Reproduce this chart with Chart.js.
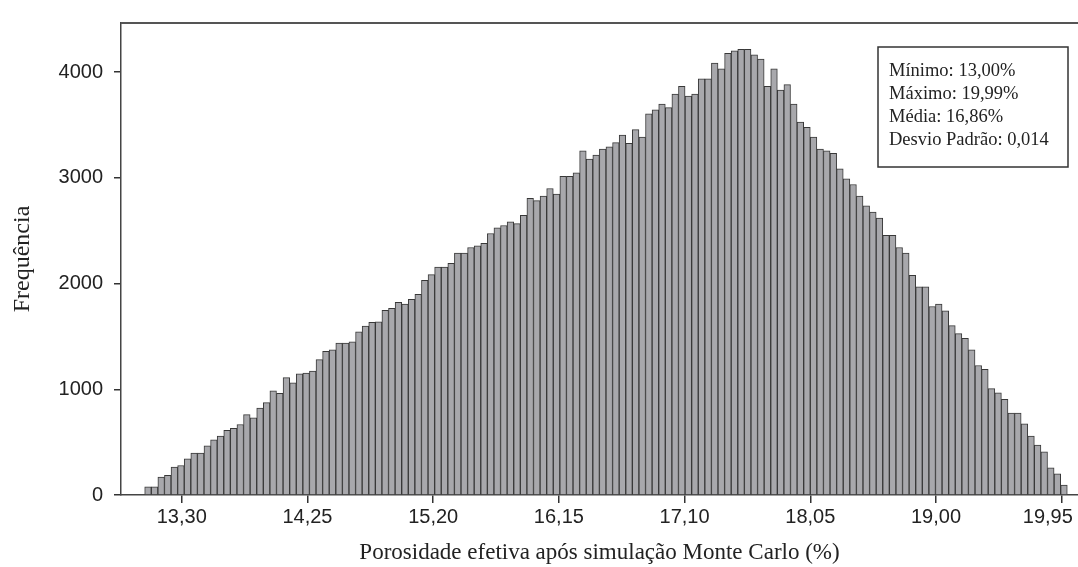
<!DOCTYPE html>
<html>
<head>
<meta charset="utf-8">
<title>Porosidade efetiva - simulação Monte Carlo</title>
<script src="https://cdn.jsdelivr.net/npm/chart.js@4.4.1/dist/chart.umd.min.js"></script>
<style>
  html, body { margin: 0; padding: 0; background: #fff; }
  #wrap { width: 1078px; height: 567px; position: relative; }
</style>
</head>
<body>
<div id="wrap"><canvas id="histChart"></canvas></div>
<script>
// Histogram classes: 140 bins from 13,02% up to 19,99%
const binStart = 13.02;
const binWidth = 0.0498;

// Frequency of each class
const frequencies = [
    77,   77,  170,  186,  264,  279,  341,  397,  397,  465,
   521,  558,  611,  630,  667,  760,  729,  822,  874,  986,
   961, 1110, 1060, 1147, 1153, 1172, 1281, 1358, 1374, 1436,
  1436, 1448, 1544, 1597, 1634, 1637, 1746, 1767, 1823, 1805,
  1850, 1898, 2031, 2084, 2155, 2155, 2192, 2288, 2288, 2341,
  2357, 2381, 2474, 2527, 2549, 2583, 2567, 2645, 2806, 2785,
  2828, 2899, 2847, 3014, 3014, 3047, 3256, 3178, 3215, 3272,
  3293, 3333, 3405, 3327, 3457, 3386, 3606, 3643, 3699, 3665,
  3792, 3867, 3774, 3792, 3938, 3938, 4087, 4031, 4177, 4202,
  4217, 4217, 4165, 4124, 3867, 4031, 3830, 3882, 3699, 3528,
  3479, 3386, 3272, 3256, 3231, 3085, 2992, 2937, 2828, 2735,
  2676, 2620, 2456, 2456, 2341, 2288, 2077, 1969, 1969, 1783,
  1805, 1742, 1603, 1526, 1482, 1374, 1225, 1188, 1007,  967,
   905,  775,  775,  673,  558,  472,  409,  257,  200,   93
];

const xTicks = [13.30, 14.25, 15.20, 16.15, 17.10, 18.05, 19.00, 19.95];
const yTicks = [0, 1000, 2000, 3000, 4000];

const statLines = [
  "Mínimo: 13,00%",
  "Máximo: 19,99%",
  "Média: 16,86%",
  "Desvio Padrão: 0,014"
];

const sansFont = "'Liberation Sans', Arial, sans-serif";
const serifFont = "'Liberation Serif', 'Times New Roman', serif";

// bar centres on the linear x axis
const points = frequencies.map((f, i) => ({ x: binStart + binWidth * (i + 0.5), y: f }));

// top edge of the frame
const frameTop = {
  id: "frameTop",
  beforeDatasetsDraw(chart) {
    const { ctx, chartArea } = chart;
    ctx.save();
    ctx.strokeStyle = "#555";
    ctx.lineWidth = 2;
    ctx.beginPath();
    ctx.moveTo(chartArea.left, chartArea.top);
    ctx.lineTo(chartArea.right, chartArea.top);
    ctx.stroke();
    ctx.restore();
  }
};

// summary statistics box, upper right
const statsBox = {
  id: "statsBox",
  afterDraw(chart) {
    const { ctx, chartArea } = chart;
    const w = 190, h = 120;
    const x = chartArea.right - 10 - w;
    const y = chartArea.top + 24;
    ctx.save();
    ctx.fillStyle = "#fff";
    ctx.fillRect(x, y, w, h);
    ctx.strokeStyle = "#333";
    ctx.lineWidth = 1.5;
    ctx.strokeRect(x, y, w, h);
    ctx.fillStyle = "#222";
    ctx.font = "18.5px " + serifFont;
    ctx.textBaseline = "alphabetic";
    statLines.forEach((line, i) => {
      ctx.fillText(line, x + 11, y + 29 + i * 23);
    });
    ctx.restore();
  }
};

// the last x label is nudged left so it stays inside the canvas
const xLabel = (v, i) => {
  const txt = v.toFixed(2).replace(".", ",");
  return i === xTicks.length - 1 ? txt + "\u00a0\u00a0\u00a0\u00a0\u00a0" : txt;
};

const ctx = document.getElementById("histChart").getContext("2d");
const histChart = new Chart(ctx, {
  type: "bar",
  data: {
    datasets: [{
      label: "Frequência",
      data: points,
      backgroundColor: "#a8a8ac",
      borderColor: "#383838",
      borderWidth: 1,
      barPercentage: 1,
      categoryPercentage: 1
    }]
  },
  options: {
    responsive: true,
    maintainAspectRatio: false,
    animation: false,
    events: [],
    layout: { padding: { top: 15, left: 0, right: 0, bottom: 0 } },
    plugins: {
      legend: { display: false },
      tooltip: { enabled: false }
    },
    scales: {
      x: {
        type: "linear",
        offset: false,
        min: 12.841,
        max: 20.073,
        afterBuildTicks: s => { s.ticks = xTicks.map(v => ({ value: v })); },
        afterFit: s => { s.height = 72; s.paddingLeft = 0; s.paddingRight = 0; },
        grid: { offset: false, drawOnChartArea: false, tickLength: 8, color: "#333", lineWidth: 1.5 },
        border: { display: true, color: "#444", width: 1.5 },
        ticks: {
          padding: 2,
          maxRotation: 0,
          autoSkip: false,
          color: "#222",
          font: { family: sansFont, size: 20 },
          callback: xLabel
        },
        title: {
          display: true,
          text: "Porosidade efetiva após simulação Monte Carlo (%)",
          color: "#222",
          font: { family: serifFont, size: 23 },
          padding: { top: 0, bottom: 0 }
        }
      },
      y: {
        min: 0,
        max: 4465,
        afterBuildTicks: s => { s.ticks = yTicks.map(v => ({ value: v })); },
        afterFit: s => { s.width = 121; },
        grid: { drawOnChartArea: false, tickLength: 7, color: "#333", lineWidth: 1.5 },
        border: { display: true, color: "#444", width: 1.5 },
        ticks: {
          padding: 11,
          color: "#222",
          font: { family: sansFont, size: 20 },
          callback: v => String(v)
        },
        title: {
          display: true,
          text: "Frequência",
          color: "#222",
          font: { family: serifFont, size: 24 },
          padding: { top: 8, bottom: 0 }
        }
      }
    }
  },
  plugins: [frameTop, statsBox]
});
</script>
</body>
</html>
